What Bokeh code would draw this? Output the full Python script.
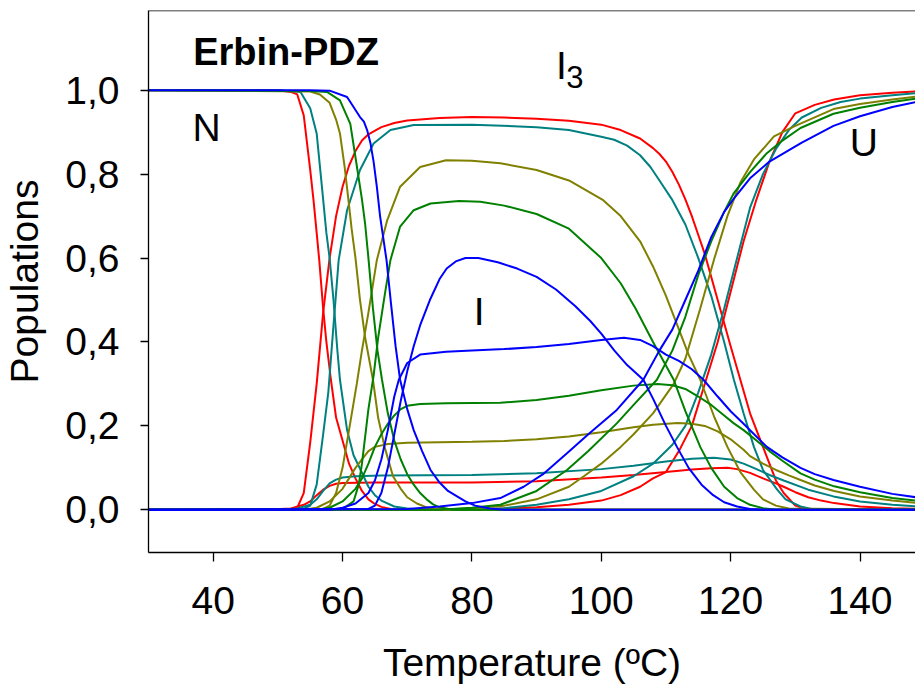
from bokeh.plotting import figure
from bokeh.models import Range1d, FixedTicker, Label, Span
from bokeh.embed import file_html
from bokeh.resources import INLINE

# ---------------- data ----------------
x_ticks = [40, 60, 80, 100, 120, 140]
y_ticks = [0.0, 0.2, 0.4, 0.6, 0.8, 1.0]
y_tick_labels = ["0,0", "0,2", "0,4", "0,6", "0,8", "1,0"]

# red
red_N_T = [30, 50, 52, 53, 54, 55, 55.5, 56, 56.4, 57, 57.5, 58.2, 59, 60, 61, 62, 63, 64, 65, 66, 68, 150]
red_N_P = [1, 1, 0.996, 0.99, 0.94, 0.81, 0.74, 0.66, 0.595, 0.48, 0.4, 0.31, 0.22, 0.165, 0.11, 0.075, 0.045, 0.025, 0.014, 0.007, 0, 0]
red_I3_T = [30, 52, 53, 54, 55, 56, 57, 58, 59, 60, 61, 62, 63, 64, 66, 68, 70, 75, 80, 85, 90, 95, 100, 103, 106, 108, 109, 110, 111, 112, 113, 114, 115, 116, 118, 120, 121.5, 123, 125, 127, 128.2, 130, 132, 150]
red_I3_P = [0, 0, 0.005, 0.04, 0.16, 0.3, 0.47, 0.6, 0.7, 0.77, 0.82, 0.855, 0.88, 0.895, 0.912, 0.922, 0.928, 0.934, 0.936, 0.935, 0.932, 0.927, 0.918, 0.905, 0.885, 0.862, 0.848, 0.83, 0.805, 0.775, 0.74, 0.70, 0.655, 0.61, 0.5, 0.39, 0.31, 0.23, 0.15, 0.07, 0.04, 0.01, 0, 0]
red_I_T = [30, 48, 52, 54, 55, 56, 57, 58, 59, 60, 65, 80, 90, 100, 105, 110, 114, 117, 119.5, 121, 123, 125, 127, 128.2, 130, 132, 134, 136, 140, 145, 150]
red_I_P = [0, 0, 0.003, 0.012, 0.02, 0.035, 0.048, 0.057, 0.062, 0.064, 0.065, 0.065, 0.068, 0.077, 0.083, 0.09, 0.096, 0.099, 0.1, 0.097, 0.088, 0.075, 0.063, 0.055, 0.042, 0.03, 0.022, 0.016, 0.008, 0.004, 0.002]
red_U_T = [30, 80, 85, 90, 95, 100, 103, 106, 108, 110, 112, 114, 116, 118, 120, 122, 124, 126, 128, 130, 133, 136, 140, 145, 150]
red_U_P = [0, 0, 0.003, 0.006, 0.012, 0.022, 0.035, 0.055, 0.075, 0.09, 0.14, 0.2, 0.3, 0.4, 0.52, 0.64, 0.74, 0.83, 0.9, 0.945, 0.965, 0.978, 0.988, 0.994, 0.998]

# teal
teal_N_T = [30, 50, 53.5, 55, 56, 57, 57.5, 58, 58.6, 59.2, 59.6, 60.7, 61.7, 62.8, 64, 65, 66, 68, 70, 72, 150]
teal_N_P = [1, 1, 0.996, 0.957, 0.897, 0.74, 0.66, 0.6, 0.5, 0.38, 0.31, 0.19, 0.13, 0.095, 0.055, 0.035, 0.022, 0.008, 0.003, 0, 0]
teal_I3_T = [30, 54, 55, 56, 57, 57.8, 58.5, 59.4, 60.7, 62.7, 64.8, 67.4, 71, 80, 90, 95, 100, 102, 104, 106, 107.6, 109, 111, 113, 115, 117, 119, 120.5, 122, 123.6, 125, 127.2, 128.5, 130.8, 133, 150]
teal_I3_P = [0, 0.002, 0.01, 0.06, 0.18, 0.28, 0.42, 0.595, 0.714, 0.81, 0.873, 0.905, 0.917, 0.918, 0.912, 0.905, 0.889, 0.882, 0.868, 0.845, 0.817, 0.785, 0.738, 0.68, 0.6, 0.51, 0.4, 0.31, 0.23, 0.15, 0.095, 0.048, 0.025, 0.008, 0, 0]
teal_I_T = [30, 50, 53, 55, 56, 57, 58, 59, 60, 62, 66, 80, 90, 100, 105, 110, 114, 117.4, 120, 122, 124, 126, 128.2, 132, 135.9, 140, 145, 150]
teal_I_P = [0, 0, 0.003, 0.012, 0.025, 0.045, 0.063, 0.072, 0.077, 0.08, 0.082, 0.083, 0.087, 0.097, 0.105, 0.115, 0.122, 0.124, 0.12, 0.11, 0.097, 0.083, 0.07, 0.048, 0.032, 0.02, 0.012, 0.007]
teal_U_T = [30, 80, 85, 90, 95, 100, 105, 108, 111, 113, 115, 117, 119, 121, 123, 125, 127, 129, 131, 134, 137, 140, 145, 150]
teal_U_P = [0, 0, 0.004, 0.012, 0.025, 0.045, 0.08, 0.11, 0.155, 0.2, 0.28, 0.37, 0.48, 0.6, 0.72, 0.8, 0.86, 0.905, 0.935, 0.958, 0.972, 0.98, 0.988, 0.995]

# olive
olive_N_T = [30, 55, 56.5, 58, 59, 59.6, 60.3, 60.9, 61.4, 62, 62.7, 63.5, 64.7, 65.5, 66.5, 67.8, 69, 70, 71.5, 73, 75, 150]
olive_N_P = [1, 0.997, 0.99, 0.97, 0.93, 0.897, 0.82, 0.74, 0.67, 0.6, 0.5, 0.41, 0.31, 0.22, 0.15, 0.08, 0.05, 0.03, 0.015, 0.006, 0, 0]
olive_I3_T = [30, 57, 58, 59, 60, 61, 62.2, 63, 64, 65.3, 66.9, 68.9, 72, 76, 80, 84.4, 90, 95, 100.3, 103, 106, 108, 110, 112, 113.5, 115.3, 117.5, 119.5, 121.5, 123.6, 125, 127, 129, 150]
olive_I3_P = [0, 0.002, 0.01, 0.04, 0.1, 0.19, 0.3, 0.38, 0.47, 0.595, 0.69, 0.77, 0.817, 0.833, 0.832, 0.826, 0.81, 0.785, 0.738, 0.7, 0.64, 0.58, 0.51, 0.43, 0.37, 0.31, 0.22, 0.15, 0.09, 0.048, 0.025, 0.01, 0.003, 0]
olive_I_T = [30, 54, 56, 58, 60, 61, 62, 63, 64, 65, 67, 70, 80, 85, 90, 95, 100, 105, 108, 111.8, 114, 116, 118, 120, 122, 123, 125, 127, 129, 130.8, 133, 136, 140, 145, 150]
olive_I_P = [0, 0, 0.005, 0.02, 0.05, 0.075, 0.1, 0.12, 0.14, 0.15, 0.157, 0.16, 0.162, 0.164, 0.168, 0.175, 0.185, 0.197, 0.203, 0.207, 0.205, 0.2, 0.187, 0.168, 0.143, 0.128, 0.11, 0.095, 0.082, 0.071, 0.058, 0.045, 0.032, 0.022, 0.015]
olive_U_T = [30, 75, 80, 85, 90, 95, 97.3, 100, 103, 105, 108, 111.2, 113, 115.3, 117.5, 119.5, 121.5, 123.6, 126.7, 130, 135.9, 140, 145, 150]
olive_U_P = [0, 0, 0.004, 0.01, 0.025, 0.055, 0.08, 0.11, 0.15, 0.18, 0.23, 0.3, 0.36, 0.48, 0.6, 0.7, 0.78, 0.835, 0.89, 0.915, 0.955, 0.967, 0.978, 0.987]

# green
green_N_T = [30, 55, 57.6, 59.6, 61.2, 62.2, 63, 63.5, 64, 64.7, 65.4, 66.1, 67, 68, 69, 70, 71, 72, 73, 74, 75, 77, 150]
green_N_P = [1, 0.998, 0.996, 0.976, 0.92, 0.82, 0.74, 0.68, 0.6, 0.48, 0.38, 0.31, 0.23, 0.165, 0.12, 0.085, 0.06, 0.04, 0.025, 0.013, 0.006, 0, 0]
green_I3_T = [30, 60, 61.7, 62.5, 63, 64, 64.8, 65.5, 66.5, 67.4, 68.9, 71, 73.6, 78, 81.3, 85, 90, 95, 100, 103, 105.3, 108, 111.2, 113, 115.3, 117, 119, 121, 123, 125, 127, 150]
green_I3_P = [0, 0.002, 0.02, 0.06, 0.11, 0.24, 0.32, 0.41, 0.51, 0.595, 0.675, 0.714, 0.73, 0.736, 0.734, 0.725, 0.705, 0.67, 0.6, 0.54, 0.48, 0.4, 0.31, 0.235, 0.15, 0.1, 0.055, 0.028, 0.012, 0.004, 0, 0]
green_I_T = [30, 56, 58, 60, 62, 63, 64, 65, 66, 67, 68, 69, 70, 72, 76, 84.4, 90, 95, 100, 105, 108.7, 111, 113, 115, 117, 119, 120.5, 122, 124, 126, 128, 130.8, 133, 136, 140, 145, 150]
green_I_P = [0, 0, 0.005, 0.02, 0.05, 0.075, 0.11, 0.15, 0.18, 0.205, 0.225, 0.24, 0.248, 0.252, 0.254, 0.255, 0.262, 0.272, 0.285, 0.296, 0.3, 0.297, 0.288, 0.27, 0.25, 0.225, 0.206, 0.19, 0.165, 0.14, 0.117, 0.087, 0.072, 0.056, 0.042, 0.028, 0.02]
green_U_T = [30, 75, 80, 84.4, 90, 94.7, 98, 102.4, 105, 108.6, 111, 113, 115, 117, 119, 120.5, 123, 125.6, 128, 130.8, 135.9, 140, 145, 150]
green_U_P = [0, 0, 0.005, 0.012, 0.045, 0.095, 0.14, 0.206, 0.25, 0.31, 0.38, 0.46, 0.56, 0.64, 0.71, 0.755, 0.805, 0.85, 0.88, 0.91, 0.944, 0.958, 0.972, 0.983]

# blue
blue_N_T = [30, 55, 58, 60.7, 62.7, 63.3, 63.8, 64.3, 64.8, 65.3, 65.8, 66.8, 67.5, 68.2, 68.9, 70, 71, 72.3, 73.6, 75, 76.3, 77.7, 79, 80.5, 82.8, 85, 150]
blue_N_P = [1, 1, 0.999, 0.984, 0.936, 0.925, 0.905, 0.875, 0.83, 0.77, 0.70, 0.595, 0.49, 0.39, 0.31, 0.24, 0.19, 0.14, 0.095, 0.065, 0.045, 0.032, 0.02, 0.01, 0.003, 0, 0]
blue_I3_T = [30, 64, 65, 66, 67, 68, 69, 70, 71, 72, 73.5, 75, 76.1, 77.5, 79, 81, 84, 87, 90, 93, 96, 98.3, 100, 102, 104, 106.5, 108, 110, 111.7, 113.5, 115.5, 117.3, 119, 121, 123, 125, 150]
blue_I3_P = [0, 0.002, 0.01, 0.04, 0.1, 0.18, 0.26, 0.33, 0.39, 0.44, 0.5, 0.55, 0.575, 0.592, 0.6, 0.6, 0.59, 0.575, 0.555, 0.525, 0.485, 0.45, 0.42, 0.38, 0.345, 0.31, 0.265, 0.2, 0.15, 0.1, 0.06, 0.035, 0.018, 0.008, 0.002, 0, 0]
blue_I_T = [30, 58, 60, 62, 64, 65, 66, 67, 68, 68.7, 70, 72, 76, 80, 85, 90, 95, 100, 103.5, 106, 108, 110, 112, 114, 115.8, 118, 120, 122, 125.6, 128, 130.8, 133, 135.9, 140, 145, 150]
blue_I_P = [0, 0, 0.005, 0.015, 0.04, 0.07, 0.12, 0.19, 0.27, 0.31, 0.35, 0.37, 0.377, 0.38, 0.383, 0.388, 0.395, 0.405, 0.41, 0.405, 0.39, 0.37, 0.355, 0.335, 0.31, 0.27, 0.235, 0.205, 0.15, 0.125, 0.1, 0.085, 0.071, 0.055, 0.038, 0.027]
blue_U_T = [30, 70, 75, 80, 84.4, 88, 91, 94.7, 98, 102.4, 106.5, 109, 111, 113, 115, 117, 119, 120.4, 123, 126, 131, 135.9, 140, 145, 150]
blue_U_P = [0, 0.002, 0.008, 0.016, 0.028, 0.055, 0.085, 0.135, 0.18, 0.238, 0.31, 0.38, 0.43, 0.5, 0.57, 0.65, 0.71, 0.74, 0.79, 0.83, 0.875, 0.915, 0.938, 0.96, 0.976]

colors = {"red": "#FF0000", "teal": "#008080", "olive": "#808000", "green": "#008000", "blue": "#0000FF"}
series = [
    ("red", [(red_N_T, red_N_P), (red_I3_T, red_I3_P), (red_I_T, red_I_P), (red_U_T, red_U_P)]),
    ("teal", [(teal_N_T, teal_N_P), (teal_I3_T, teal_I3_P), (teal_I_T, teal_I_P), (teal_U_T, teal_U_P)]),
    ("olive", [(olive_N_T, olive_N_P), (olive_I3_T, olive_I3_P), (olive_I_T, olive_I_P), (olive_U_T, olive_U_P)]),
    ("green", [(green_N_T, green_N_P), (green_I3_T, green_I3_P), (green_I_T, green_I_P), (green_U_T, green_U_P)]),
    ("blue", [(blue_N_T, blue_N_P), (blue_I3_T, blue_I3_P), (blue_I_T, blue_I_P), (blue_U_T, blue_U_P)]),
]

FONT = "Liberation Sans"
FS = "39px"

p = figure(width=915, height=688, output_backend="svg", toolbar_location=None,
           x_range=Range1d(30, 148.58), y_range=Range1d(-0.1017, 1.19),
           min_border_left=148, min_border_right=0, min_border_top=10, min_border_bottom=136)
p.outline_line_color = None
p.grid.visible = False
p.background_fill_color = "white"
p.border_fill_color = "white"

for name, curves in series:
    for T, P in curves:
        p.line(T, P, line_color=colors[name], line_width=2)

# top frame line
p.add_layout(Span(location=1.19, dimension="width", line_color="black", line_width=1.3))

for ax in (p.xaxis[0], p.yaxis[0]):
    ax.axis_line_color = "black"
    ax.axis_line_width = 1.3
    ax.major_tick_line_color = "black"
    ax.major_tick_line_width = 1.3
    ax.major_tick_in = 0
    ax.minor_tick_line_color = None
    ax.major_label_text_font = FONT
    ax.major_label_text_font_size = FS
    ax.major_label_text_color = "black"
    ax.axis_label_text_font = FONT
    ax.axis_label_text_font_size = FS
    ax.axis_label_text_font_style = "normal"
    ax.axis_label_text_color = "black"

p.xaxis.ticker = FixedTicker(ticks=x_ticks)
p.xaxis.major_tick_out = 9
p.xaxis.major_label_standoff = 25
p.xaxis.axis_label = "Temperature (ºC)"
p.xaxis.axis_label_standoff = 24

p.yaxis.ticker = FixedTicker(ticks=y_ticks)
p.yaxis.major_label_overrides = {t: s for t, s in zip(y_ticks, y_tick_labels)}
p.yaxis.major_tick_out = 8
p.yaxis.major_label_standoff = 21
p.yaxis.axis_label = "Populations"
p.yaxis.axis_label_standoff = 16

def add_label(txt, x, y, size=FS, style="normal"):
    p.add_layout(Label(x=x, y=y, text=txt, text_font=FONT, text_font_size=size,
                       text_font_style=style, text_color="black",
                       text_baseline="alphabetic", text_align="left"))

add_label("Erbin-PDZ", 36.9, 1.090, size="38px", style="bold")
add_label("N", 36.8, 0.910)
add_label("I", 80.3, 0.472)
add_label("I", 93.0, 1.060)
add_label("3", 94.6, 1.032, size="31px")
add_label("U", 138.4, 0.876)

open("out.html", "w").write(file_html(p, INLINE))
